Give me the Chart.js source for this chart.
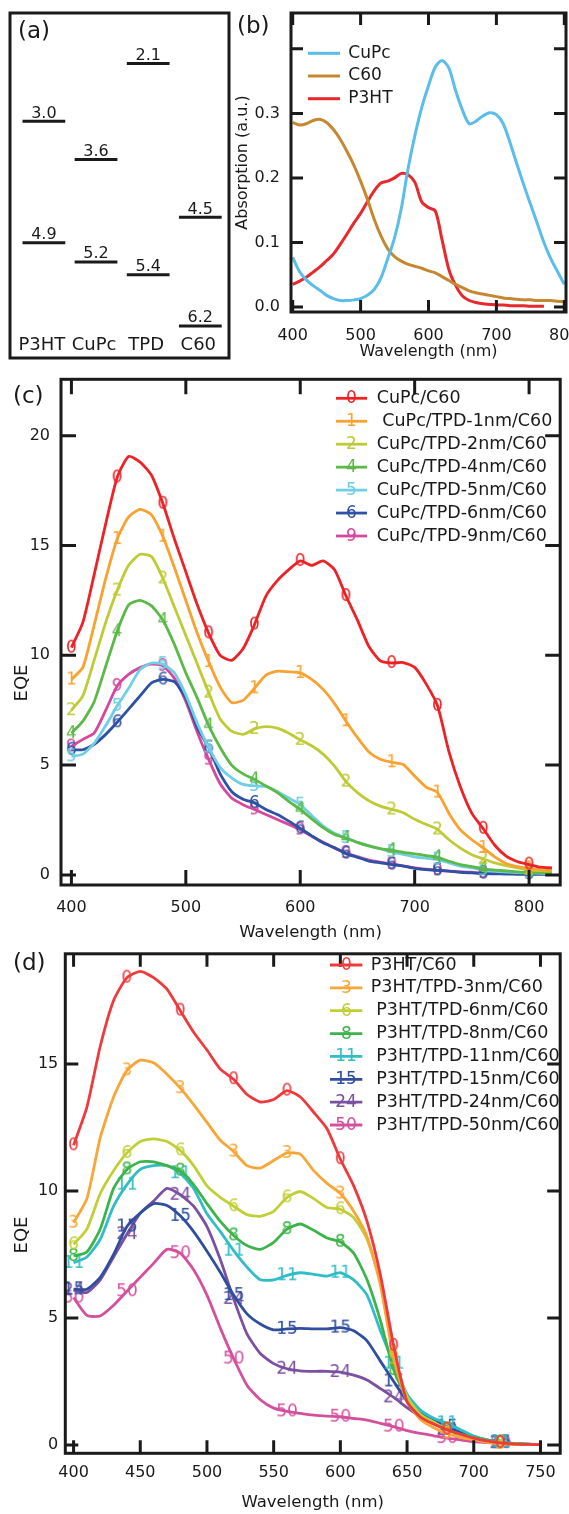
<!DOCTYPE html>
<html>
<head>
<meta charset="utf-8">
<title>Energy levels, absorption and EQE</title>
<script src="https://cdn.jsdelivr.net/npm/chart.js@4.4.1/dist/chart.umd.min.js"></script>
<style>
  html, body { margin: 0; padding: 0; background: #fff; }
  body { position: relative; width: 569px; height: 1514px; overflow: hidden; }
  .panel { position: absolute; }
  .panel canvas { display: block; }
</style>
</head>
<body>
<div class="panel" style="left:0;top:0"><canvas id="levelsChart" width="235" height="365"></canvas></div>
<div class="panel" style="left:230px;top:0"><canvas id="absChart" width="339" height="370"></canvas></div>
<div class="panel" style="left:0;top:365px"><canvas id="cupcChart" width="569" height="580"></canvas></div>
<div class="panel" style="left:0;top:945px"><canvas id="p3htChart" width="569" height="569"></canvas></div>
<script>
const INK = '#1a1a1a';
const FAMILY = '"DejaVu Sans", "Liberation Sans", Arial, sans-serif';
Chart.defaults.font.family = FAMILY;
Chart.defaults.color = INK;

// ---------------- (a) energy levels (eV) ----------------
const materials = ['P3HT', 'CuPc', 'TPD', 'C60'];
const lumoLevels = [3.0, 3.6, 2.1, 4.5];
const homoLevels = [4.9, 5.2, 5.4, 6.2];

// ---------------- (b) absorption ----------------
const absLabels = ['CuPc', 'C60', 'P3HT'];
const absWavelengths = [400, 410, 420, 430, 440, 450, 460, 470, 480, 490, 500, 510, 520, 530, 540, 550, 560, 570, 580, 590,
  600, 610, 620, 630, 640, 650, 660, 670, 680, 690, 700, 710, 720, 730, 740, 750, 760, 770, 780, 790, 800];
const absCuPc = [0.077, 0.055, 0.042, 0.033, 0.026, 0.018, 0.013, 0.010, 0.010, 0.011, 0.013, 0.018, 0.027, 0.045, 0.075,
  0.107, 0.153, 0.215, 0.266, 0.309, 0.343, 0.372, 0.382, 0.370, 0.335, 0.305, 0.284, 0.288, 0.296, 0.301, 0.298, 0.284,
  0.255, 0.222, 0.190, 0.160, 0.130, 0.100, 0.075, 0.055, 0.035];
const absC60 = [0.286, 0.282, 0.284, 0.289, 0.291, 0.286, 0.275, 0.260, 0.241, 0.220, 0.195, 0.167, 0.136, 0.110, 0.090,
  0.078, 0.071, 0.066, 0.063, 0.060, 0.056, 0.053, 0.047, 0.041, 0.035, 0.030, 0.025, 0.022, 0.020, 0.018, 0.016, 0.014,
  0.013, 0.012, 0.011, 0.011, 0.010, 0.010, 0.010, 0.009, 0.008];
const absP3HT = [0.035, 0.040, 0.046, 0.054, 0.062, 0.072, 0.082, 0.097, 0.113, 0.130, 0.145, 0.163, 0.180, 0.192, 0.195,
  0.200, 0.207, 0.205, 0.193, 0.163, 0.154, 0.149, 0.104, 0.058, 0.033, 0.017, 0.010, 0.007, 0.005, 0.004, 0.003, 0.003,
  0.002, 0.002, 0.002, 0.001, 0.001, 0.001, null, null, null];
const absXTicks = [400, 500, 600, 700, 800];
const absYTicks = [0, 0.1, 0.2, 0.3, 0.4];
const absYTickLabels = ['0.0', '0.1', '0.2', '0.3', ''];

// ---------------- (c) EQE, CuPc/TPD/C60 ----------------
const cupcLabels = ['CuPc/C60', ' CuPc/TPD-1nm/C60', 'CuPc/TPD-2nm/C60', 'CuPc/TPD-4nm/C60',
  'CuPc/TPD-5nm/C60', 'CuPc/TPD-6nm/C60', 'CuPc/TPD-9nm/C60'];
const cupcMarks = ['0', '1', '2', '4', '5', '6', '9'];
const cupcWavelengths = [400, 410, 420, 430, 440, 450, 460, 470, 480, 490, 500, 510, 520, 530, 540, 550, 560, 570, 580, 590,
  600, 610, 620, 630, 640, 650, 660, 670, 680, 690, 700, 710, 720, 730, 740, 750, 760, 770, 780, 790, 800, 810, 820];
const cupcMarkAt = [400, 440, 480, 520, 560, 600, 640, 680, 720, 760, 800];
const eqeCuPc0 = [10.35, 11.5, 13.7, 16.0, 18.1, 19.06, 18.8, 18.2, 16.9, 15.3, 13.8, 12.3, 11.0, 10.0, 9.77, 10.3, 11.4,
  12.7, 13.4, 13.9, 14.3, 14.1, 14.3, 13.9, 12.7, 11.6, 10.4, 9.75, 9.65, 9.67, 9.45, 8.7, 7.7, 5.6, 4.0, 2.8, 2.1, 1.35,
  0.85, 0.6, 0.47, 0.35, 0.32];
const eqeCuPc1 = [8.9, 9.45, 11.4, 13.5, 15.3, 16.3, 16.65, 16.4, 15.4, 14.0, 12.5, 11.0, 9.7, 8.55, 7.85, 7.95, 8.5, 9.1,
  9.28, 9.25, 9.2, 8.9, 8.45, 7.8, 7.0, 6.25, 5.6, 5.27, 5.13, 5.03, 4.5, 4.0, 3.75, 2.8, 2.05, 1.6, 1.23, 0.82, 0.52,
  0.38, 0.3, 0.24, 0.21];
const eqeCuPc2 = [7.5, 8.15, 9.8, 11.5, 12.95, 14.1, 14.6, 14.5, 13.5, 12.2, 10.9, 9.6, 8.3, 7.1, 6.55, 6.4, 6.65, 6.75,
  6.68, 6.45, 6.15, 5.88, 5.5, 4.95, 4.25, 3.75, 3.38, 3.13, 2.98, 2.83, 2.53, 2.3, 2.07, 1.6, 1.22, 0.92, 0.73, 0.55,
  0.42, 0.32, 0.24, 0.19, 0.17];
const eqeCuPc4 = [6.45, 7.0, 7.9, 9.5, 11.1, 12.3, 12.5, 12.25, 11.6, 10.5, 9.2, 8.05, 6.8, 5.8, 5.0, 4.6, 4.35, 4.05, 3.75,
  3.35, 2.98, 2.55, 2.15, 1.84, 1.68, 1.48, 1.32, 1.2, 1.12, 1.03, 0.96, 0.88, 0.8, 0.62, 0.47, 0.38, 0.27, 0.22, 0.18,
  0.14, 0.12, 0.1, 0.09];
const eqeCuPc5 = [5.4, 5.5, 6.0, 6.8, 7.7, 8.5, 9.35, 9.65, 9.6, 9.2, 8.2, 6.9, 5.8, 4.9, 4.42, 4.12, 4.05, 4.03, 3.8, 3.5,
  3.2, 2.7, 2.22, 1.9, 1.68, 1.48, 1.32, 1.19, 1.05, 0.93, 0.82, 0.76, 0.7, 0.55, 0.4, 0.32, 0.21, 0.16, 0.13, 0.1, 0.09,
  0.07, 0.06];
const eqeCuPc6 = [5.7, 5.7, 5.95, 6.4, 6.95, 7.55, 8.15, 8.75, 8.9, 8.8, 8.05, 6.7, 5.8, 4.6, 3.8, 3.45, 3.28, 2.98, 2.75,
  2.45, 2.12, 1.78, 1.46, 1.23, 0.97, 0.8, 0.63, 0.55, 0.47, 0.4, 0.3, 0.24, 0.21, 0.17, 0.12, 0.09, 0.06, 0.05, 0.04,
  0.03, 0.03, 0.02, 0.02];
const eqeCuPc9 = [5.85, 6.17, 6.47, 7.5, 8.6, 9.13, 9.44, 9.6, 9.52, 8.95, 7.9, 6.5, 5.25, 4.15, 3.5, 3.2, 2.98, 2.75,
  2.52, 2.3, 2.06, 1.76, 1.49, 1.23, 1.0, 0.83, 0.67, 0.58, 0.5, 0.41, 0.32, 0.26, 0.21, 0.17, 0.14, 0.12, 0.09, 0.08,
  0.07, 0.06, 0.06, 0.05, 0.05];
const cupcXTicks = [400, 500, 600, 700, 800];
const cupcYTicks = [0, 5, 10, 15, 20];

// ---------------- (d) EQE, P3HT/TPD/C60 ----------------
const p3htLabels = ['P3HT/C60', 'P3HT/TPD-3nm/C60', ' P3HT/TPD-6nm/C60', ' P3HT/TPD-8nm/C60',
  ' P3HT/TPD-11nm/C60', ' P3HT/TPD-15nm/C60', ' P3HT/TPD-24nm/C60', ' P3HT/TPD-50nm/C60'];
const p3htMarks = ['0', '3', '6', '8', '11', '15', '24', '50'];
const p3htWavelengths = [400, 410, 420, 430, 440, 450, 460, 470, 480, 490, 500, 510, 520, 530, 540, 550, 560, 570, 580,
  590, 600, 610, 620, 630, 640, 650, 660, 670, 680, 690, 700, 710, 720, 730, 740, 750];
const p3htMarkAt = [400, 440, 480, 520, 560, 600, 640, 680, 720];
const eqeP3HT0 = [11.8, 13.3, 15.7, 17.5, 18.4, 18.65, 18.4, 17.95, 17.1, 16.25, 15.55, 14.8, 14.4, 13.8, 13.5, 13.6,
  13.95, 13.7, 13.1, 12.45, 11.25, 10.2, 8.8, 6.7, 3.9, 1.7, 1.1, 0.82, 0.6, 0.42, 0.27, 0.16, 0.08, 0.04, 0.02, 0.01];
const eqeP3HT3 = [8.75, 9.7, 12.1, 13.7, 14.75, 15.15, 15.05, 14.6, 14.05, 13.4, 12.7, 12.0, 11.55, 11.0, 10.9, 11.2, 11.5,
  11.45, 10.8, 10.3, 9.9, 9.2, 8.2, 6.3, 3.4, 1.7, 1.0, 0.68, 0.45, 0.3, 0.2, 0.1, 0.04, 0.02, 0.01, 0.01];
const eqeP3HT6 = [7.9, 8.5, 9.9, 10.8, 11.5, 11.95, 12.05, 11.95, 11.6, 11.0, 10.2, 9.75, 9.4, 9.07, 9.0, 9.2, 9.75, 9.98,
  9.7, 9.35, 9.28, 8.95, 8.1, 6.4, 3.6, 1.9, 1.2, 0.9, 0.6, 0.4, 0.26, 0.15, 0.07, 0.04, 0.02, 0.01];
const eqeP3HT8 = [7.44, 7.6, 8.5, 10.1, 10.85, 11.15, 11.15, 11.0, 10.8, 10.25, 9.5, 8.8, 8.25, 7.85, 7.7, 7.98, 8.5, 8.7,
  8.45, 8.15, 8.0, 7.55, 6.5, 4.9, 2.95, 1.85, 1.2, 0.85, 0.6, 0.42, 0.3, 0.18, 0.1, 0.05, 0.03, 0.02];
const eqeP3HT11 = [7.17, 7.4, 8.1, 9.4, 10.25, 10.85, 11.0, 11.0, 10.7, 10.1, 9.1, 8.4, 7.65, 7.0, 6.5, 6.5, 6.68, 6.78,
  6.72, 6.65, 6.78, 6.5, 5.9, 4.5, 3.2, 2.0, 1.37, 1.05, 0.85, 0.6, 0.35, 0.2, 0.1, 0.06, 0.03, 0.02];
const eqeP3HT15 = [6.13, 6.13, 6.6, 7.5, 8.6, 9.13, 9.5, 9.43, 9.02, 8.4, 7.63, 6.8, 5.9, 5.16, 4.76, 4.53, 4.57, 4.59,
  4.57, 4.57, 4.62, 4.5, 4.1, 3.3, 2.5, 1.72, 1.24, 0.95, 0.72, 0.5, 0.33, 0.2, 0.1, 0.06, 0.03, 0.02];
const eqeP3HT24 = [6.1, 6.0, 6.5, 7.4, 8.3, 9.13, 9.6, 10.1, 9.85, 9.4, 8.6, 7.3, 5.75, 4.37, 3.6, 3.2, 3.0, 2.92, 2.9,
  2.9, 2.87, 2.75, 2.56, 2.22, 1.87, 1.47, 1.11, 0.82, 0.6, 0.42, 0.26, 0.15, 0.07, 0.04, 0.02, 0.01];
const eqeP3HT50 = [5.8, 5.1, 5.08, 5.5, 6.05, 6.6, 7.15, 7.7, 7.55, 6.9, 5.9, 4.6, 3.4, 2.35, 1.78, 1.45, 1.32, 1.24,
  1.17, 1.13, 1.11, 1.04, 0.98, 0.85, 0.72, 0.56, 0.45, 0.36, 0.27, 0.2, 0.13, 0.09, 0.07, 0.04, 0.02, 0.01];
const p3htXTicks = [400, 450, 500, 550, 600, 650, 700, 750];
const p3htYTicks = [0, 5, 10, 15];

// ---------------- helpers ----------------
const MARK_FONT = `17px ${FAMILY}`;

// digit marker drawn as a small canvas, used as the point style
function makeMarker(text, color) {
  const c = document.createElement('canvas');
  const g = c.getContext('2d');
  g.font = MARK_FONT;
  const w = Math.ceil(g.measureText(text).width) + 2;
  c.width = w;
  c.height = 20;
  g.font = MARK_FONT;
  g.fillStyle = color;
  g.textAlign = 'center';
  g.textBaseline = 'middle';
  g.fillText(text, w / 2, 10.5);
  return c;
}

function fixedTicks(values) {
  return scale => { scale.ticks = values.map(value => ({ value })); };
}

function fixedSize(prop, size) {
  return scale => {
    scale[prop] = size;
    scale.paddingLeft = 0;
    scale.paddingRight = 0;
    scale.paddingTop = 0;
    scale.paddingBottom = 0;
  };
}

function eqeDataset(label, mark, color, xs, ys, markAt) {
  const marker = makeMarker(mark, color);
  return {
    label,
    marker,
    data: xs.map((x, i) => ({ x, y: ys[i] })),
    borderColor: color,
    backgroundColor: color,
    borderWidth: 2.8,
    tension: 0.2,
    pointStyle: marker,
    pointRadius: c => (markAt.includes(xs[c.dataIndex]) ? 6 : 0),
    pointHoverRadius: 0,
  };
}

function absDataset(label, color, ys) {
  return {
    label,
    data: absWavelengths.map((x, i) => ({ x, y: ys[i] })),
    borderColor: color,
    borderWidth: 3,
    tension: 0.3,
    pointRadius: 0,
  };
}

const hidden = { legend: { display: false }, tooltip: { enabled: false } };
const noGrid = { display: false, drawTicks: false };

// frame, inward ticks, custom legend, rotated title and panel letter
const figurePlugin = {
  id: 'figure',
  afterDatasetsDraw(chart, args, o) {
    const { ctx, chartArea: a } = chart;
    ctx.save();
    ctx.strokeStyle = INK;
    ctx.lineWidth = 3;
    ctx.strokeRect(a.left, a.top, a.right - a.left, a.bottom - a.top);

    if (o.tickLength) {
      const { x, y } = chart.scales;
      const len = o.tickLength;
      ctx.beginPath();
      x.ticks.forEach(t => {
        const px = x.getPixelForValue(t.value);
        ctx.moveTo(px, a.bottom); ctx.lineTo(px, a.bottom - len);
        ctx.moveTo(px, a.top); ctx.lineTo(px, a.top + len);
      });
      y.ticks.forEach(t => {
        const py = y.getPixelForValue(t.value);
        ctx.moveTo(a.left, py); ctx.lineTo(a.left + len, py);
        ctx.moveTo(a.right, py); ctx.lineTo(a.right - len, py);
      });
      ctx.stroke();
    }

    ctx.fillStyle = INK;
    if (o.yTitle) {
      ctx.save();
      ctx.translate(o.yTitle.x, o.yTitle.y);
      ctx.rotate(-Math.PI / 2);
      ctx.font = `${o.yTitle.size}px ${FAMILY}`;
      ctx.textAlign = 'center';
      ctx.textBaseline = 'middle';
      ctx.fillText(o.yTitle.text, 0, 0);
      ctx.restore();
    }

    if (o.legend) {
      const L = o.legend;
      ctx.font = `${L.size}px ${FAMILY}`;
      ctx.textAlign = 'left';
      ctx.textBaseline = 'middle';
      chart.data.datasets.forEach((ds, i) => {
        const yy = L.y + i * L.row;
        ctx.strokeStyle = ds.borderColor;
        ctx.lineWidth = ds.borderWidth;
        ctx.beginPath();
        ctx.moveTo(L.x, yy);
        ctx.lineTo(L.x + L.len, yy);
        ctx.stroke();
        if (ds.marker) {
          ctx.drawImage(ds.marker, Math.round(L.x + L.len / 2 - ds.marker.width / 2), Math.round(yy - ds.marker.height / 2));
        }
        ctx.fillStyle = INK;
        ctx.fillText(ds.label, L.x + L.len + L.gap, yy);
      });
    }

    if (o.panel) {
      ctx.font = `23px ${FAMILY}`;
      ctx.textAlign = 'left';
      ctx.textBaseline = 'middle';
      ctx.fillStyle = INK;
      ctx.fillText(o.panel.text, o.panel.x, o.panel.y);
    }
    ctx.restore();
  }
};

// values written above each level and material names along the bottom
const levelLabelPlugin = {
  id: 'levelLabels',
  afterDatasetsDraw(chart) {
    const { ctx, chartArea: a, scales: { x, y } } = chart;
    ctx.save();
    ctx.fillStyle = INK;
    ctx.textAlign = 'center';
    ctx.textBaseline = 'alphabetic';
    materials.forEach((name, i) => {
      const px = x.getPixelForValue(i);
      ctx.font = `16px ${FAMILY}`;
      [lumoLevels[i], homoLevels[i]].forEach(e => {
        ctx.fillText(e.toFixed(1), px, y.getPixelForValue(e) - 3.5);
      });
      ctx.font = `18px ${FAMILY}`;
      ctx.fillText(name, px - 2, a.bottom - 8);
    });
    ctx.restore();
  }
};

// ---------------- (a) ----------------
const levelSets = [];
materials.forEach((name, i) => {
  [lumoLevels[i], homoLevels[i]].forEach(e => {
    levelSets.push({
      label: name,
      data: [{ x: i - 0.41, y: e }, { x: i + 0.41, y: e }],
      borderColor: INK,
      borderWidth: 3,
      pointRadius: 0,
    });
  });
});

new Chart(document.getElementById('levelsChart'), {
  type: 'line',
  data: { datasets: levelSets },
  options: {
    responsive: false,
    animation: false,
    events: [],
    layout: { padding: { left: 10, top: 13, right: 6, bottom: 7 } },
    plugins: { ...hidden, figure: { panel: { text: '(a)', x: 18, y: 32 } } },
    scales: {
      x: { type: 'linear', min: -0.65, max: 3.55, display: false },
      y: { type: 'linear', min: 1.31, max: 6.70, reverse: true, display: false },
    },
  },
  plugins: [figurePlugin, levelLabelPlugin],
});

// ---------------- (b) ----------------
new Chart(document.getElementById('absChart'), {
  type: 'line',
  data: {
    datasets: [
      absDataset(absLabels[0], '#5bbde9', absCuPc),
      absDataset(absLabels[1], '#c58730', absC60),
      absDataset(absLabels[2], '#e8282c', absP3HT),
    ],
  },
  options: {
    responsive: false,
    animation: false,
    events: [],
    layout: { padding: { left: 0, top: 13, right: 3, bottom: 0 } },
    plugins: {
      ...hidden,
      figure: {
        tickLength: 12,
        legend: { x: 78, y: 53.3, row: 22.7, len: 32, gap: 8.3, size: 17 },
        panel: { text: '(b)', x: 7, y: 27.5 },
      },
    },
    scales: {
      x: {
        type: 'linear', min: 397.5, max: 802.5,
        afterBuildTicks: fixedTicks(absXTicks),
        ticks: { font: { size: 16 }, padding: 14, maxRotation: 0, autoSkip: false },
        grid: noGrid, border: { display: false },
        title: { display: true, text: 'Wavelength (nm)', font: { size: 16 }, padding: { top: 0, bottom: 9 } },
        afterFit: fixedSize('height', 58),
      },
      y: {
        type: 'linear', min: -0.0078, max: 0.4556,
        afterBuildTicks: fixedTicks(absYTicks),
        ticks: { font: { size: 16 }, padding: 11, callback: (v, i) => absYTickLabels[i] },
        grid: noGrid, border: { display: false },
        title: { display: true, text: 'Absorption (a.u.)', font: { size: 16 }, padding: { top: 3, bottom: 0 } },
        afterFit: fixedSize('width', 61),
      },
    },
  },
  plugins: [figurePlugin],
});

// ---------------- (c) ----------------
const cupcColors = ['#ec2227', '#f9a22f', '#bfcb35', '#5ab947', '#71cee4', '#2e51a3', '#d5489b'];
const cupcSeries = [eqeCuPc0, eqeCuPc1, eqeCuPc2, eqeCuPc4, eqeCuPc5, eqeCuPc6, eqeCuPc9];

new Chart(document.getElementById('cupcChart'), {
  type: 'line',
  data: {
    datasets: cupcSeries.map((ys, i) =>
      eqeDataset(cupcLabels[i], cupcMarks[i], cupcColors[i], cupcWavelengths, ys, cupcMarkAt)),
  },
  options: {
    responsive: false,
    animation: false,
    events: [],
    layout: { padding: { left: 0, top: 14.3, right: 3, bottom: 0 } },
    plugins: {
      ...hidden,
      figure: {
        tickLength: 15,
        legend: { x: 336, y: 33.3, row: 22.95, len: 31, gap: 9.7, size: 17.5 },
        yTitle: { text: 'EQE', x: 22, y: 318, size: 18 },
        panel: { text: '(c)', x: 13, y: 32 },
      },
    },
    scales: {
      x: {
        type: 'linear', min: 390.9, max: 827.2,
        afterBuildTicks: fixedTicks(cupcXTicks),
        ticks: { font: { size: 16 }, padding: 13, maxRotation: 0, autoSkip: false },
        grid: noGrid, border: { display: false },
        title: { display: true, text: 'Wavelength (nm)', font: { size: 16.5 }, padding: { top: 0, bottom: 2 } },
        afterFit: fixedSize('height', 60),
      },
      y: {
        type: 'linear', min: -0.46, max: 22.57,
        afterBuildTicks: fixedTicks(cupcYTicks),
        ticks: { font: { size: 16 }, padding: 11 },
        grid: noGrid, border: { display: false },
        afterFit: fixedSize('width', 61),
      },
    },
  },
  plugins: [figurePlugin],
});

// ---------------- (d) ----------------
const p3htColors = ['#ee3a3c', '#f7a637', '#c1cf36', '#3db449', '#31bdc5', '#2f4e9d', '#7b50a1', '#d4509c'];
const p3htSeries = [eqeP3HT0, eqeP3HT3, eqeP3HT6, eqeP3HT8, eqeP3HT11, eqeP3HT15, eqeP3HT24, eqeP3HT50];

new Chart(document.getElementById('p3htChart'), {
  type: 'line',
  data: {
    datasets: p3htSeries.map((ys, i) =>
      eqeDataset(p3htLabels[i], p3htMarks[i], p3htColors[i], p3htWavelengths, ys, p3htMarkAt)),
  },
  options: {
    responsive: false,
    animation: false,
    events: [],
    layout: { padding: { left: 0, top: 5.7, right: 3, bottom: 0 } },
    plugins: {
      ...hidden,
      figure: {
        tickLength: 13,
        legend: { x: 330, y: 20, row: 22.86, len: 32.3, gap: 8.4, size: 17.5 },
        yTitle: { text: 'EQE', x: 22, y: 290, size: 18 },
        panel: { text: '(d)', x: 13, y: 19 },
      },
    },
    scales: {
      x: {
        type: 'linear', min: 393.8, max: 764.8,
        afterBuildTicks: fixedTicks(p3htXTicks),
        ticks: { font: { size: 16 }, padding: 10, maxRotation: 0, autoSkip: false },
        grid: noGrid, border: { display: false },
        title: { display: true, text: 'Wavelength (nm)', font: { size: 16.5 }, padding: { top: 0, bottom: 1 } },
        afterFit: fixedSize('height', 60.7),
      },
      y: {
        type: 'linear', min: -0.33, max: 19.34,
        afterBuildTicks: fixedTicks(p3htYTicks),
        ticks: { font: { size: 16 }, padding: 7 },
        grid: noGrid, border: { display: false },
        afterFit: fixedSize('width', 65.3),
      },
    },
  },
  plugins: [figurePlugin],
});
</script>
</body>
</html>
